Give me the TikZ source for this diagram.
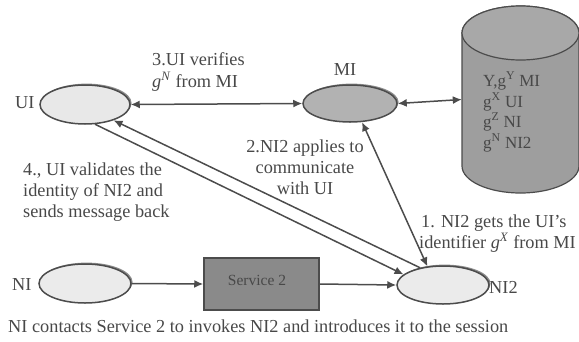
\documentclass[tikz,border=0pt]{standalone}
\usepackage{fontspec}
\setmainfont{Liberation Serif}
\usetikzlibrary{shapes.geometric,arrows.meta,shadows}
\definecolor{ink}{HTML}{484848}
\definecolor{edge}{HTML}{4C4C4C}
\tikzset{
  x=1pt,y=-1pt,
  every node/.style={text=ink,font=\fontsize{18.3}{20}\selectfont,inner sep=0pt},
  oval/.style={ellipse,draw=edge,line width=1.5pt,inner sep=0pt,
    general shadow={shadow xshift=1.6pt,shadow yshift=1.4pt,fill=gray!90}},
  link/.style={draw=edge,line width=1.5pt,-{Latex[length=9pt,width=8pt]}},
  biglink/.style={draw=edge,line width=1.5pt,{Latex[length=9pt,width=8pt]}-{Latex[length=9pt,width=8pt]}},
  lbl/.style={anchor=base west},
  lblc/.style={anchor=base},
  dbtext/.style={anchor=base west,font=\fontsize{17}{19}\selectfont},
}
\newcommand{\gsup}[1]{\textit{g}\textsuperscript{\textit{#1}}}
\begin{document}
\begin{tikzpicture}
\useasboundingbox (0,0) rectangle (579,341);
% database
\fill[fill=black!38,draw=edge,line width=1.2pt] (462,33) -- (462,166) arc[start angle=180,end angle=360,x radius=58.5,y radius=-27] -- (579,33) arc[start angle=0,end angle=180,x radius=58.5,y radius=-27] -- cycle;
\draw[fill=black!34,draw=edge,line width=1.2pt] (520.5,33) ellipse[x radius=58.5,y radius=27];
\node[minimum width=117pt,minimum height=187pt] (db) at (520.5,99.5) {};
\node[oval,fill=black!9,minimum width=90pt,minimum height=39pt] (ui) at (85,104.5) {};
\node[oval,fill=black!30,minimum width=94pt,minimum height=37pt] (mi) at (350,103.5) {};
\node[oval,fill=black!8,minimum width=92pt,minimum height=39pt] (ni) at (85,283.5) {};
\node[oval,fill=black!8,minimum width=92pt,minimum height=38pt] (ni2) at (443,285) {};
\node[draw=edge,line width=1.5pt,fill=black!46,minimum width=115pt,minimum height=52pt] (svc) at (261.5,284) {};
\draw[biglink] (ui.east) -- (mi.west);
\draw[biglink] (mi.east) -- (db.west);
\draw[biglink] (mi.-57) -- (ni2.130);
\draw[link] (ui.-63) -- (ni2.165);
\draw[link] (ni2.143) -- (ui.-29);
\draw[link] (ni.east) -- (svc.west);
\draw[link] (svc.east) -- (ni2.west);
\node[lbl] (t3a) at (152,65) {3.UI verifies};
\node[lbl] (t3b) at (152,87) {\gsup{N} from MI};
\node[lblc] (tmi) at (345,75) {MI};
\node[lbl] (tui) at (15,108) {UI};
\node[lbl] (tni) at (12,290) {NI};
\node[lbl] (tni2) at (489,293) {NI2};
\node[lblc] (t2a) at (305,152) {2.NI2 applies to};
\node[lblc] (t2b) at (305,173) {communicate};
\node[lblc] (t2c) at (305,194) {with UI};
\node[lbl] (t4a) at (23,175) {4., UI validates the};
\node[lbl] (t4b) at (23,196) {identity of NI2 and};
\node[lbl] (t4c) at (23,217) {sends message back};
\node[lbl] (t1a) at (421,227) {1. NI2 gets the UI's};
\node[lbl] (t1b) at (419,248) {identifier \gsup{X} from MI};
\node[lbl] (cap) at (8,332) {NI contacts Service 2 to invokes NI2 and introduces it to the session};
\node[lblc,font=\fontsize{15.5}{17}\selectfont] (tsvc) at (257,285) {Service 2};
\node[dbtext] (d1) at (483,86) {Y,g\textsuperscript{Y} MI};
\node[dbtext] (d2) at (483,107) {g\textsuperscript{X} UI};
\node[dbtext] (d3) at (483,127) {g\textsuperscript{Z} NI};
\node[dbtext] (d4) at (483,148) {g\textsuperscript{N} NI2};
\end{tikzpicture}
\end{document}
